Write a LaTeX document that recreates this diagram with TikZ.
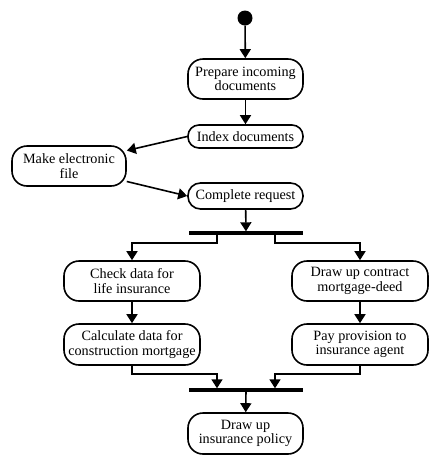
\documentclass[tikz,border=0pt]{standalone}
\usepackage{fontspec}
\setmainfont{Liberation Serif}
\usetikzlibrary{arrows.meta,calc}
\begin{document}
\begin{tikzpicture}[x=1pt,y=1pt,
  box/.style={draw,line width=1.6pt,rounded corners=15pt,align=center,inner sep=1pt,
    font=\fontsize{14.2}{14.5}\selectfont},
  bar/.style={fill=black,minimum width=114pt,minimum height=3.4pt,inner sep=0pt,outer sep=0pt},
  arr/.style={line width=1.6pt,-{Triangle[length=9pt,width=11pt]}}
]
\useasboundingbox (0,0) rectangle (441,-467);
\node[circle,fill=black,minimum size=15pt,inner sep=0pt] (start) at (245,-18) {};
\node[box,minimum width=115pt,minimum height=40pt] (prep) at (245.5,-79) {Prepare incoming\\documents};
\node[box,minimum width=115pt,minimum height=23pt,rounded corners=11pt] (index) at (245.5,-136.5) {Index documents};
\node[box,minimum width=114pt,minimum height=40pt] (make) at (69,-166) {Make electronic\\file};
\node[box,minimum width=115pt,minimum height=26pt,rounded corners=12.5pt] (complete) at (245.5,-196) {Complete request};
\node[bar] (bar1) at (246,-233) {};
\node[box,minimum width=136pt,minimum height=40pt] (check) at (132,-281) {Check data for\\life insurance};
\node[box,minimum width=136pt,minimum height=40pt] (contract) at (360,-281) {Draw up contract\\mortgage-deed};
\node[box,minimum width=136pt,minimum height=41pt] (calc) at (132,-344.5) {Calculate data for\\construction mortgage};
\node[box,minimum width=136pt,minimum height=41pt] (pay) at (360,-344.5) {Pay provision to\\insurance agent};
\node[bar] (bar2) at (246,-390) {};
\node[box,minimum width=115pt,minimum height=41pt] (policy) at (245.5,-433.5) {Draw up\\insurance policy};

\draw[arr] (start) -- (prep);
\draw[arr] (prep) -- (index);
\draw[arr] (index.west) -- (make.15);
\draw[arr] (make.-15) -- (complete.west);
\draw[arr] (complete) -- (bar1);
\draw[arr] ([xshift=-29pt]bar1.south) -- ++(0,-8pt) -| (check.north);
\draw[arr] ([xshift=29pt]bar1.south) -- ++(0,-8pt) -| (contract.north);
\draw[arr] (check) -- (calc);
\draw[arr] (contract) -- (pay);
\draw[arr] (calc.south) -- ++(0,-8pt) -| ([xshift=-29pt]bar2.north);
\draw[arr] (pay.south) -- ++(0,-8pt) -| ([xshift=29pt]bar2.north);
\draw[arr] (bar2) -- (policy);
\end{tikzpicture}
\end{document}
